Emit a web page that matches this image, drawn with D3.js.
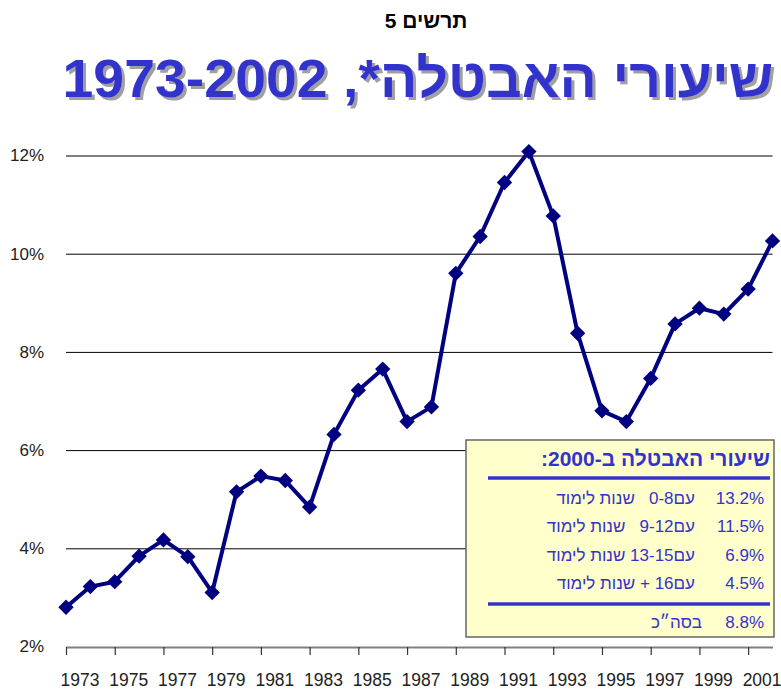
<!DOCTYPE html>
<html lang="he">
<head>
<meta charset="utf-8">
<script src="https://cdn.jsdelivr.net/npm/d3@7"></script>
<style>
    body { margin: 0; background: #fff; }
    svg text { font-family: "Liberation Sans", Arial, sans-serif; }
</style>
</head>
<body>
<div id="chart"></div>
<script>
// Years on the x-axis and the unemployment rate (%) per year
const years = d3.range(1973, 2003);
const rates = [2.80, 3.22, 3.32, 3.84, 4.17, 3.83, 3.10, 5.15, 5.47, 5.38,
               4.84, 6.32, 7.22, 7.65, 6.58, 6.88, 9.60, 10.35, 11.45, 12.08,
               10.77, 8.38, 6.80, 6.58, 7.46, 8.57, 8.89, 8.77, 9.28, 10.26];

// Tick values
const yearTicks = d3.range(1973, 2002, 2);
const rateTicks = [2, 4, 6, 8, 10, 12];

// Legend box content (year 2000 by education)
const legendTitle = "שיעורי האבטלה ב-2000:";
const legendRates = ["13.2%", "11.5%", "6.9%", "4.5%"];
const legendLabels = ["עם0-8   שנות לימוד", "עם9-12   שנות לימוד", "עם13-15 שנות לימוד", "עם16 + שנות לימוד"];
const totalRate = "8.8%";
const totalLabel = "בסה\u05F4כ";

// Titles
const chartLabel = "תרשים 5";
const chartTitle = "שיעורי האבטלה*, 1973-2002";

const width = 781;
const height = 692;
const blue = "#3333cc";

const svg = d3.select("#chart").append("svg")
    .attr("width", width)
    .attr("height", height);

// Drop shadow for the main title
const shadow = svg.append("defs").append("filter")
    .attr("id", "title-shadow")
    .attr("x", "-5%").attr("y", "-20%")
    .attr("width", "110%").attr("height", "140%");
shadow.append("feDropShadow")
    .attr("dx", 3).attr("dy", 3)
    .attr("stdDeviation", 0)
    .attr("flood-color", "#a0a0a0")
    .attr("flood-opacity", 1);

// Scales
const x = d3.scaleLinear().domain([1973, 2002]).range([66, 772.5]);
const y = d3.scaleLinear().domain([2, 12]).range([646.5, 155.5]);

// Horizontal gridlines
const grid = svg.append("g")
    .attr("transform", "translate(66,0)")
    .call(d3.axisLeft(y).tickValues(rateTicks.slice(1)).tickSize(-(772.5 - 66)).tickFormat(""));
grid.select(".domain").remove();
grid.selectAll("line").attr("stroke", "#000").attr("stroke-width", 1);

// y labels
const yAxis = svg.append("g")
    .attr("transform", "translate(44,0)")
    .call(d3.axisLeft(y).tickValues(rateTicks).tickSize(0).tickPadding(0).tickFormat(d => d + "%"));
yAxis.select(".domain").remove();
yAxis.selectAll("text")
    .attr("font-size", 17)
    .attr("fill", "#222")
    .style("font-family", "'Liberation Sans', Arial, sans-serif");

// x axis
const xAxis = svg.append("g")
    .attr("transform", "translate(0,647)")
    .call(d3.axisBottom(x).tickValues(yearTicks).tickSize(8).tickSizeOuter(0).tickFormat(d3.format("d")));
xAxis.select(".domain").attr("stroke", "#808080").attr("stroke-width", 2);
xAxis.selectAll(".tick line").attr("stroke", "#333").attr("stroke-width", 1.2);
xAxis.selectAll("text")
    .attr("font-size", 17.5)
    .attr("fill", "#222")
    .attr("text-anchor", "start")
    .attr("x", -6)
    .attr("dy", null)
    .attr("y", 39)
    .style("font-family", "'Liberation Sans', Arial, sans-serif");

// The series line
const line = d3.line()
    .x((d, i) => x(years[i]))
    .y(d => y(d));

svg.append("path")
    .datum(rates)
    .attr("d", line)
    .attr("fill", "none")
    .attr("stroke", "#000080")
    .attr("stroke-width", 4)
    .attr("stroke-linejoin", "round");

// Diamond markers
svg.append("g").selectAll("path")
    .data(rates)
    .join("path")
    .attr("d", d3.symbol(d3.symbolDiamond2, 150))
    .attr("transform", (d, i) => `translate(${x(years[i])},${y(d)})`)
    .attr("fill", "#000080");

// Legend box
const box = svg.append("g");
box.append("rect")
    .attr("x", 466).attr("y", 440)
    .attr("width", 308).attr("height", 197)
    .attr("fill", "#ffffcc")
    .attr("stroke", "#666")
    .attr("stroke-width", 1.5);

box.append("text")
    .attr("x", 770).attr("y", 466)
    .attr("direction", "rtl")
    .attr("text-anchor", "start")
    .attr("font-size", 21)
    .attr("font-weight", "bold")
    .attr("fill", blue)
    .text(legendTitle);

box.append("line")
    .attr("x1", 488).attr("x2", 770)
    .attr("y1", 478).attr("y2", 478)
    .attr("stroke", blue).attr("stroke-width", 3.5);

const rowY = [504, 532, 561, 589];
legendRates.forEach((r, i) => {
    box.append("text")
        .attr("x", 764).attr("y", rowY[i])
        .attr("text-anchor", "end")
        .attr("font-size", 17)
        .attr("fill", blue)
        .text(r);
    box.append("text")
        .attr("x", 695).attr("y", rowY[i])
        .attr("direction", "rtl")
        .attr("text-anchor", "start")
        .attr("font-size", 17)
        .attr("fill", blue)
        .style("white-space", "pre")
        .text(legendLabels[i]);
});

box.append("line")
    .attr("x1", 488).attr("x2", 770)
    .attr("y1", 604).attr("y2", 604)
    .attr("stroke", blue).attr("stroke-width", 3.5);

box.append("text")
    .attr("x", 764).attr("y", 628)
    .attr("text-anchor", "end")
    .attr("font-size", 17)
    .attr("fill", blue)
    .text(totalRate);
box.append("text")
    .attr("x", 702).attr("y", 628)
    .attr("direction", "rtl")
    .attr("text-anchor", "start")
    .attr("font-size", 17)
    .attr("fill", blue)
    .text(totalLabel);

// Chart label and title
svg.append("text")
    .attr("x", 426).attr("y", 28)
    .attr("text-anchor", "middle")
    .attr("direction", "rtl")
    .attr("font-size", 21)
    .attr("font-weight", "bold")
    .attr("fill", "#000")
    .text(chartLabel);

svg.append("text")
    .attr("x", 418).attr("y", 97)
    .attr("text-anchor", "middle")
    .attr("direction", "rtl")
    .attr("font-size", 54)
    .attr("font-weight", "bold")
    .attr("fill", blue)
    .attr("filter", "url(#title-shadow)")
    .attr("textLength", 711)
    .attr("lengthAdjust", "spacingAndGlyphs")
    .text(chartTitle);
</script>
</body>
</html>
